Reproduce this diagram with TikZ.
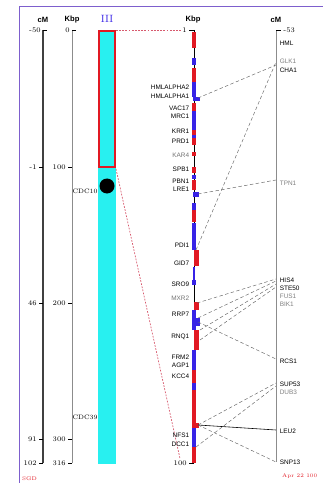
\documentclass[tikz,border=0pt]{standalone}
\usepackage{fontspec}
\setsansfont{Liberation Sans}
\usetikzlibrary{positioning}

\definecolor{sgdred}{RGB}{225,25,35}
\definecolor{sgdblue}{RGB}{55,35,230}
\definecolor{chrcyan}{RGB}{40,240,240}
\definecolor{framepurple}{RGB}{125,95,205}
\definecolor{dotpink}{RGB}{215,90,110}

\begin{document}
\begin{tikzpicture}[x=0.03cm, y=-0.03cm,
        head/.style={font=\sffamily\bfseries\fontsize{6.5}{7}\selectfont, inner sep=0pt},
        num/.style={font=\fontsize{6}{7}\selectfont, inner sep=1pt},
        gene/.style={font=\sffamily\fontsize{5.5}{6}\selectfont, inner sep=0.5pt},
        lgene/.style={gene, anchor=east},
        rgene/.style={gene, anchor=west},
        wseg/.style={fill=sgdred},
        cseg/.style={fill=sgdblue},
        link/.style={black!60, densely dashed, line width=0.4pt},
        zoomline/.style={dotpink, dash pattern=on 1.5pt off 1.2pt, line width=0.6pt}]
        \useasboundingbox (0,0) rectangle (323,483);

        % frame
        \draw[framepurple, line width=0.8pt] (19,483) -- (19,6) -- (323,6);

        \node[head] (cmhead) at (43,20) {cM};
        \node[head] (kbphead) at (72,20) {Kbp};
        \node[font=\fontsize{9}{9}\selectfont, text=sgdblue, inner sep=0pt] (chrname) at (107,19) {III};
        \node[head] (zkbphead) at (193,20) {Kbp};
        \node[head] (zcmhead) at (276,20) {cM};

        %% left axes
        \coordinate (cmtop) at (43,30);
        \coordinate (cmbot) at (43,463);
        \coordinate (kbtop) at (72,30);
        \coordinate (kbbot) at (72,463);
        \draw[black!75, line width=1pt] (cmtop) -- (cmbot);
        \draw[black!45, line width=0.8pt] (kbtop) -- (kbbot);
        \draw[thin] (cmtop) -- ++(4,0);
        \draw[thin] (kbtop) -- ++(4,0);
        \draw[thin] (43,167) -- ++(-4,0);
        \draw[thin] (72,167) -- ++(-4,0);
        \draw[thin] (43,303) -- ++(-4,0);
        \draw[thin] (72,303) -- ++(-4,0);
        \draw[thin] (43,439) -- ++(-4,0);
        \draw[thin] (72,439) -- ++(-4,0);
        \draw[thin] (cmbot) -- ++(-4,0);
        \draw[thin] (kbbot) -- ++(-4,0);
        \node[num, anchor=east] (cm50) at (42,30) {-50};
        \node[num, anchor=east] (kb0) at (71,30) {0};
        \node[num, anchor=east] (cm1) at (38,167) {-1};
        \node[num, anchor=east] (kb100) at (67,167) {100};
        \node[num, anchor=east] (cm46) at (38,303) {46};
        \node[num, anchor=east] (kb200) at (67,303) {200};
        \node[num, anchor=east] (cm91) at (38,439) {91};
        \node[num, anchor=east] (kb300) at (67,439) {300};
        \node[num, anchor=east] (cm102) at (38,463) {102};
        \node[num, anchor=east] (kb316) at (67,463) {316};

        %% chromosome
        \fill[chrcyan] (98,30) rectangle (116,464);
        \draw[sgdred, line width=2pt] (98.8,30.8) rectangle (115.2,167.2);
        \coordinate (boxtr) at (116,30);
        \coordinate (boxbr) at (116,169);
        \node[circle, fill=black, minimum size=0.45cm, inner sep=0pt] (cen) at (107,186) {};
        \node[num, font=\fontsize{5.5}{6}\selectfont, anchor=east] (cdc10) at (99,191) {CDC10};
        \node[num, font=\fontsize{5.5}{6}\selectfont, anchor=east] (cdc39) at (99,417) {CDC39};

        %% zoomed region
        \coordinate (ztop) at (194,30);
        \coordinate (zbot) at (194,463);
        \draw[line width=0.5pt] (ztop) -- (zbot);
        \draw[thin] (ztop) -- ++(-5,0);
        \draw[thin] (zbot) -- ++(-5,0);
        \node[num, anchor=east] (z1) at (188,30) {1};
        \node[num, anchor=east] (z100) at (188,463) {100};
        \draw[zoomline] (boxtr) -- (z1.west);
        \draw[zoomline] (boxbr) -- (z100.north);

        \fill[wseg] (192,32) rectangle (196,48);
        \fill[cseg] (192,58) rectangle (196,65);
        \fill[wseg] (192,68) rectangle (196,82);
        \fill[cseg] (192,82) rectangle (196,97);
        \fill[cseg] (193,97) rectangle (200,101);
        \fill[wseg] (192,103) rectangle (196,111);
        \fill[cseg] (192,111) rectangle (196,130);
        \fill[wseg] (192,130) rectangle (196,135);
        \fill[cseg] (192,135) rectangle (196,138);
        \fill[wseg] (192,138) rectangle (196,145);
        \fill[wseg] (192,152) rectangle (196,156);
        \fill[wseg] (192,167) rectangle (196,173);
        \fill[cseg] (192,175) rectangle (196,179);
        \fill[wseg] (192,180) rectangle (196,190);
        \fill[cseg] (193,192) rectangle (199,197);
        \fill[cseg] (192,203) rectangle (196,210);
        \fill[wseg] (192,210) rectangle (196,222);
        \fill[cseg] (192,223) rectangle (196,250);
        \fill[wseg] (194,250) rectangle (199,266);
        \fill[cseg] (193,267) rectangle (195,280);
        \fill[cseg] (192,280) rectangle (196,285);
        \fill[wseg] (194,302) rectangle (199,310);
        \fill[cseg] (192,310) rectangle (196,330);
        \fill[cseg] (194,318) rectangle (200,326);
        \fill[wseg] (194,330) rectangle (199,350);
        \fill[cseg] (192,350) rectangle (196,370);
        \fill[wseg] (192,370) rectangle (196,383);
        \fill[cseg] (192,383) rectangle (196,390);
        \fill[wseg] (192,390) rectangle (196,428);
        \fill[wseg] (194,423) rectangle (199,428);
        \fill[cseg] (192,428) rectangle (196,447);
        \fill[wseg] (192,447) rectangle (196,463);

        \node[lgene] (hmla2) at (190,87) {HMLALPHA2};
        \node[lgene] (hmla1) at (190,96) {HMLALPHA1};
        \node[lgene] (vac17) at (190,108) {VAC17};
        \node[lgene] (mrc1) at (190,116) {MRC1};
        \node[lgene] (krr1) at (190,131) {KRR1};
        \node[lgene] (prd1) at (190,141) {PRD1};
        \node[lgene, text=black!55] (kar4) at (190,155) {KAR4};
        \node[lgene] (spb1) at (190,169) {SPB1};
        \node[lgene] (pbn1) at (190,181) {PBN1};
        \node[lgene] (lre1) at (190,189) {LRE1};
        \node[lgene] (pdi1) at (190,245) {PDI1};
        \node[lgene] (gid7) at (190,263) {GID7};
        \node[lgene] (sro9) at (190,284) {SRO9};
        \node[lgene, text=black!55] (mxr2) at (190,298) {MXR2};
        \node[lgene] (rrp7) at (190,314) {RRP7};
        \node[lgene] (rnq1) at (190,337) {RNQ1};
        \node[lgene] (frm2) at (190,357) {FRM2};
        \node[lgene] (agp1) at (190,365) {AGP1};
        \node[lgene] (kcc4) at (190,376) {KCC4};
        \node[lgene] (nfs1) at (190,435) {NFS1};
        \node[lgene] (dcc1) at (190,444) {DCC1};

        %% right cM axis
        \coordinate (rtop) at (276,30);
        \coordinate (rbot) at (276,462);
        \draw[black!45, line width=0.6pt] (rtop) -- (rbot);
        \draw[thin] (rtop) -- ++(5,0);
        \node[num, anchor=west] (r53) at (282,30) {-53};

        \node[rgene] (hml) at (279,43) {HML};
        \node[rgene, text=black!50] (glk1) at (279,61) {GLK1};
        \node[rgene] (cha1) at (279,70) {CHA1};
        \node[rgene, text=black!50] (tpn1) at (279,183) {TPN1};
        \node[rgene] (his4) at (279,280) {HIS4};
        \node[rgene] (ste50) at (279,288) {STE50};
        \node[rgene, text=black!50] (fus1) at (279,296) {FUS1};
        \node[rgene, text=black!50] (bik1) at (279,304) {BIK1};
        \node[rgene] (rcs1) at (279,361) {RCS1};
        \node[rgene] (sup53) at (279,384) {SUP53};
        \node[rgene, text=black!50] (dub3) at (279,392) {DUB3};
        \node[rgene] (leu2) at (279,431) {LEU2};
        \node[rgene] (snp13) at (279,462) {SNP13};

        %% links physical -> genetic
        \coordinate (pA) at (198,98);
        \coordinate (pB) at (196,250);
        \coordinate (pC) at (198,194);
        \coordinate (pD) at (197,303);
        \coordinate (pE) at (198,318);
        \coordinate (pF) at (200,330);
        \coordinate (pG) at (200,340);
        \coordinate (pH) at (198,322);
        \coordinate (pI) at (198,425);
        \coordinate (pJ) at (196,447);
        \coordinate (gA) at (276,65);
        \coordinate (gB) at (276,62);
        \coordinate (gC) at (276,180);
        \coordinate (gD) at (276,279);
        \coordinate (gE) at (276,281);
        \coordinate (gF) at (276,284);
        \coordinate (gG) at (276,287);
        \coordinate (gH) at (276,359);
        \coordinate (gI) at (276,383);
        \coordinate (gJ) at (276,386);
        \coordinate (gK) at (276,430);
        \coordinate (gL) at (276,462);

        \draw[link] (pA) -- (gA);
        \draw[link] (pB) -- (gB);
        \draw[link] (pC) -- (gC);
        \draw[link] (pD) -- (gD);
        \draw[link] (pE) -- (gE);
        \draw[link] (pF) -- (gF);
        \draw[link] (pG) -- (gG);
        \draw[link] (pH) -- (gH);
        \draw[link] (pI) -- (gI);
        \draw[link] (pJ) -- (gJ);
        \draw[black, line width=0.5pt] (pI) -- (gK);
        \draw[link] (pI) -- (gL);

        % footer
        \node[font=\fontsize{4.5}{5}\selectfont, text=sgdred, inner sep=0pt, anchor=west] (sgd) at (22,479) {SGD};
        \node[font=\fontsize{4.5}{5}\selectfont, text=sgdred, inner sep=0pt, anchor=west] (date) at (282,476) {Apr 22 100};
\end{tikzpicture}
\end{document}
